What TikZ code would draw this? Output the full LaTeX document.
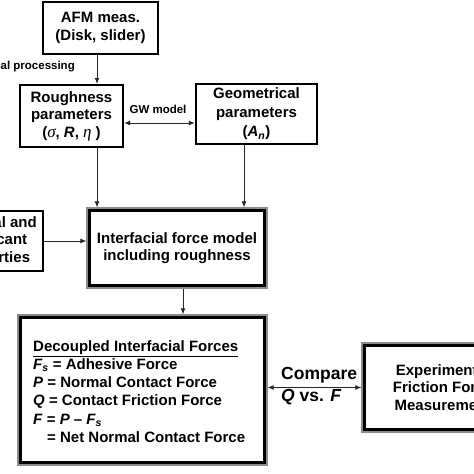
\documentclass[tikz,border=0pt]{standalone}
\usepackage{fontspec}
\setmainfont{Liberation Sans}
\newfontfamily\greekserif{Liberation Serif}
\usetikzlibrary{arrows.meta}
\tikzset{
  box/.style={draw=black, line width=2.4pt, rectangle, inner sep=0pt, align=center,
    font=\fontsize{15}{17.5}\selectfont\bfseries},
  dbox/.style={draw=black!45, line width=1.3pt, rectangle, inner sep=0pt, align=center,
    font=\fontsize{15}{17.5}\selectfont\bfseries},
  conn/.style={draw=black!85, line width=0.9pt, -{Latex[length=6pt,width=5pt]}},
  dconn/.style={draw=black!85, line width=0.9pt, {Latex[length=6pt,width=5pt]}-{Latex[length=6pt,width=5pt]}},
  lbl/.style={font=\fontsize{11.5}{13}\selectfont\bfseries, inner sep=0pt},
  bigl/.style={font=\fontsize{17.5}{20}\selectfont\bfseries, inner sep=0pt},
}
\newcommand{\innerframe}[1]{%
  \draw[line width=3pt, black] ([shift={(3pt,-3pt)}]#1.north west) rectangle ([shift={(-3pt,3pt)}]#1.south east);}
\newcommand{\gk}[1]{{\greekserif\mdseries\itshape\fontsize{17}{17}\selectfont #1}}
\begin{document}
\begin{tikzpicture}[x=1pt,y=-1pt]
\useasboundingbox (0,0) rectangle (474,474);
\clip (0,0) rectangle (474,474);
\fill[white] (0,0) rectangle (474,474);
% nodes
\node[box, minimum width=115, minimum height=52] (afm) at (100.5,28) {AFM meas.\\(Disk, slider)};
\node[box, minimum width=103, minimum height=62] (rough) at (71.5,116)
  {Roughness\\parameters\\(\gk{σ}, \textit{R}, \gk{η} )};
\node[box, minimum width=121, minimum height=60, font=\fontsize{15}{19}\selectfont\bfseries] (geom) at (256.5,114)
  {Geometrical\\parameters\\(\textit{A\textsubscript{n}})};
\node[box, minimum width=100, minimum height=60] (mat) at (-7,241)
  {Material and\\Lubricant\\Properties};
\node[dbox, minimum width=180, minimum height=80] (inter) at (177,248)
  {Interfacial force model\\including roughness};
\innerframe{inter}
\node[dbox, minimum width=249, minimum height=150] (dec) at (142.5,390) {};
\innerframe{dec}
\node[anchor=west, align=left, inner sep=0pt, font=\fontsize{15}{18.2}\selectfont\bfseries] (dectext) at (33,391.5)
  {\underline{Decoupled Interfacial Forces}\\
   \textit{F\textsubscript{s}} = Adhesive Force\\
   \textit{P} = Normal Contact Force\\
   \textit{Q} = Contact Friction Force\\
   \textit{F} = \textit{P} -- \textit{F\textsubscript{s}}\\
   \hspace{14pt}= Net Normal Contact Force};
\node[dbox, minimum width=162, minimum height=89] (exp) at (443,387.5)
  {Experimental\\Friction Force\\Measurement};
\innerframe{exp}
% helper coordinates
\coordinate (c1) at (97,0);
\coordinate (c2) at (244,0);
\coordinate (c3) at (183,0);
\coordinate (c5) at (0,123);
% connectors
\draw[conn] (afm.south -| c1) -- (rough.north -| c1);
\node[lbl, anchor=east] (proc) at (75,67) {Statistical processing};
\draw[dconn] (rough.east |- c5) -- (geom.west |- c5);
\node[lbl] (gw) at (158,109) {GW model};
\draw[conn] (rough.south -| c1) -- (inter.north -| c1);
\draw[conn] (geom.south -| c2) -- (inter.north -| c2);
\draw[conn] (mat.east) -- (inter.west |- mat.east);
\draw[conn] (inter.south -| c3) -- (dec.north -| c3);
\draw[dconn] (dec.east |- exp.west) -- (exp.west);
\node[bigl, anchor=west] (cmp) at (281,375) {Compare};
\node[bigl, anchor=west] (qf) at (281,397) {\textit{Q} vs. \textit{F}};
\end{tikzpicture}
\end{document}
